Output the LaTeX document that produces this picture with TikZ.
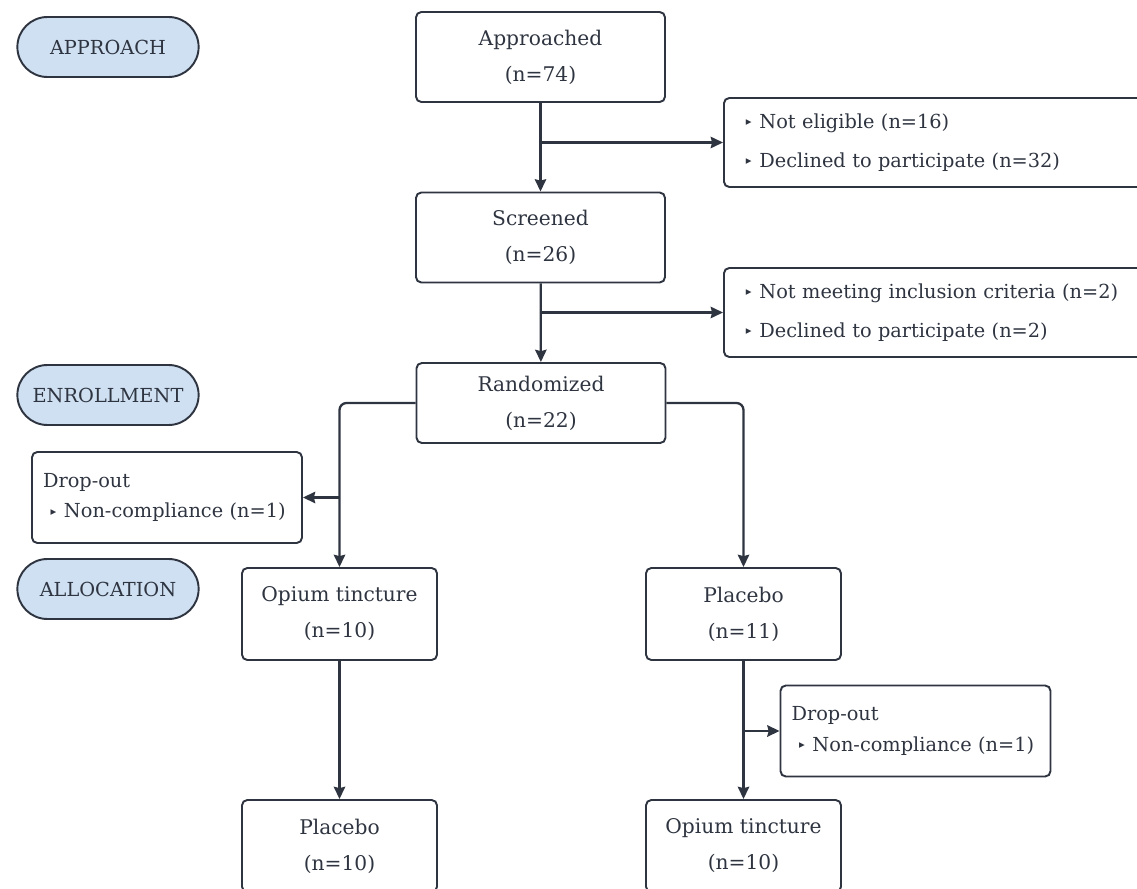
\documentclass[tikz,border=0pt]{standalone}
\usepackage{fontspec}
\setmainfont{DejaVu Serif}
\newfontfamily\symfont{DejaVu Sans}
\usetikzlibrary{positioning,shapes.misc,arrows.meta}
\definecolor{ink}{HTML}{2E3440}
\definecolor{stagefill}{HTML}{CFE0F2}
\newcommand{\tri}{{\symfont\fontsize{6.5}{6.5}\selectfont\raisebox{1.5pt}{▸}}\hspace{0.4em}}
\tikzset{
	box/.style={draw=ink, text=ink, line width=1.1pt, rounded corners=3pt, minimum width=4.98cm, minimum height=1.8cm, align=center, font=\fontsize{11.5}{20.5}\selectfont},
	armbox/.style={box, minimum width=3.9cm, minimum height=1.84cm},
	sidebox/.style={draw=ink, text=ink, line width=1.1pt, rounded corners=3pt, anchor=west, align=left, text width=7.8cm, inner xsep=0.44cm, minimum height=1.78cm, font=\fontsize{11}{22.5}\selectfont},
	dropbox/.style={sidebox, anchor=center, text width=4.96cm, inner xsep=0.22cm, minimum height=1.82cm, font=\fontsize{11}{17.5}\selectfont},
	stage/.style={draw=ink, fill=stagefill, text=ink, line width=1.1pt, rounded rectangle, minimum width=3.86cm, minimum height=1.2cm, font=\fontsize{11}{12}\selectfont},
	link/.style={->, draw=ink, line width=1.3pt, rounded corners=4pt}
}
\begin{document}
\begin{tikzpicture}[>={Stealth[length=7pt,width=6.5pt,inset=0.8pt]}, x=0.02cm, y=-0.02cm]
	\useasboundingbox (0,0) rectangle (1137,889);
	% stages
	\node[stage] (S1) at (108,47) {APPROACH};
	\node[stage] (S2) at (108,395) {ENROLLMENT};
	\node[stage] (S3) at (108,589) {ALLOCATION};
	% main column
	\node[box] (appr) at (540.5,57) {Approached\\(n=74)};
	\node[box] (scr) at (540.5,237.5) {Screened\\(n=26)};
	\node[box, minimum height=1.6cm] (rand) at (541,403) {Randomized\\(n=22)};
	\node[sidebox] (ex1) at (723,142.5) {\tri Not eligible (n=16)\\\tri Declined to participate (n=32)};
	\node[sidebox] (ex2) at (723,312.5) {\tri Not meeting inclusion criteria (n=2)\\\tri Declined to participate (n=2)};
	% arms
	\node[dropbox] (drop1) at (167,497.5) {Drop-out\\\hspace*{0.15cm}\tri Non-compliance (n=1)};
	\node[armbox] (opi1) at (339.5,614) {Opium tincture\\(n=10)};
	\node[armbox] (pla1) at (743.5,614) {Placebo\\(n=11)};
	\node[dropbox] (drop2) at (915.5,731) {Drop-out\\\hspace*{0.15cm}\tri Non-compliance (n=1)};
	\node[armbox] (pla2) at (339.5,846) {Placebo\\(n=10)};
	\node[armbox] (opi2) at (743.5,846) {Opium tincture\\(n=10)};
	% connectors
	\draw[link] (appr) -- (scr);
	\draw[link] (appr.south |- ex1.west) -- (ex1.west);
	\draw[link] (scr) -- (rand);
	\draw[link] (scr.south |- ex2.west) -- (ex2.west);
	\draw[link] (rand.west) -| (opi1.north);
	\draw[link] (rand.east) -| (pla1.north);
	\draw[link] (opi1.north |- drop1.east) -- (drop1.east);
	\draw[link] (opi1) -- (pla2);
	\draw[link] (pla1) -- (opi2);
	\draw[link] (pla1.south |- drop2.west) -- (drop2.west);
\end{tikzpicture}
\end{document}
